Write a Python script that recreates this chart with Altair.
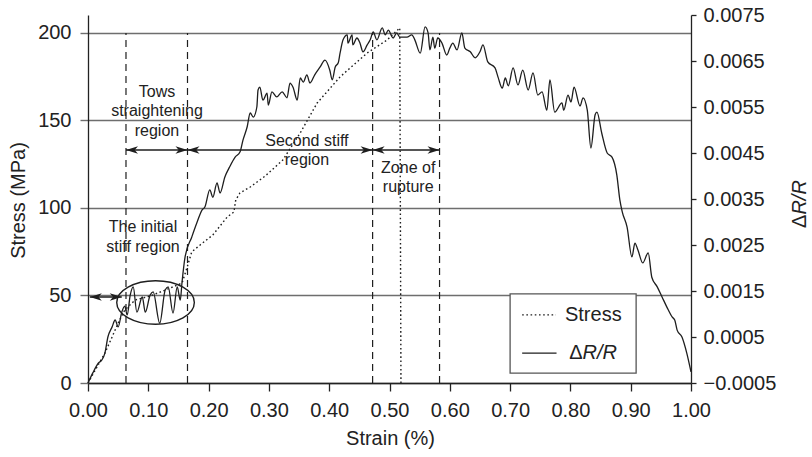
import altair as alt
import pandas as pd

FONT = "Liberation Sans"

# ---- data ----
strain_dr = [0.000, 0.008, 0.017, 0.023, 0.028, 0.033, 0.040, 0.045, 0.050, 0.056,
             0.061, 0.065, 0.070, 0.075, 0.081, 0.090, 0.095, 0.103, 0.108, 0.119,
             0.128, 0.133, 0.141, 0.148, 0.153, 0.156, 0.161, 0.172, 0.181, 0.189,
             0.194, 0.202, 0.207, 0.214, 0.219, 0.227, 0.235, 0.244, 0.252, 0.257,
             0.264, 0.269, 0.274, 0.280, 0.282, 0.285, 0.290, 0.297, 0.299, 0.305,
             0.313, 0.322, 0.330, 0.335, 0.340, 0.347, 0.352, 0.357, 0.363, 0.368,
             0.376, 0.385, 0.393, 0.401, 0.405, 0.410, 0.415, 0.418, 0.423, 0.430,
             0.431, 0.438, 0.439, 0.446, 0.451, 0.456, 0.463, 0.468, 0.473, 0.479,
             0.488, 0.493, 0.498, 0.506, 0.512, 0.517, 0.529, 0.537, 0.542, 0.551,
             0.559, 0.564, 0.567, 0.572, 0.575, 0.580, 0.587, 0.595, 0.600, 0.605,
             0.612, 0.620, 0.625, 0.634, 0.642, 0.650, 0.655, 0.663, 0.675, 0.680,
             0.687, 0.692, 0.697, 0.705, 0.713, 0.721, 0.730, 0.738, 0.746, 0.753,
             0.761, 0.766, 0.774, 0.786, 0.789, 0.796, 0.801, 0.806, 0.816, 0.821,
             0.828, 0.834, 0.841, 0.844, 0.852, 0.861, 0.869, 0.877, 0.882, 0.886,
             0.894, 0.902, 0.907, 0.912, 0.920, 0.929, 0.935, 0.944, 0.952, 0.960,
             0.969, 0.973, 0.977, 0.985, 0.993, 1.000]
dr_values = [-0.00050, -0.00028, -0.00007, 0.00000, 0.00015, 0.00050, 0.00072, 0.00087, 0.00072, 0.00104,
             0.00117, 0.00098, 0.00141, 0.00159, 0.00104, 0.00137, 0.00104, 0.00141, 0.00148, 0.00080,
             0.00152, 0.00159, 0.00102, 0.00159, 0.00130, 0.00170, 0.00224, 0.00267, 0.00300, 0.00326,
             0.00333, 0.00370, 0.00354, 0.00385, 0.00363, 0.00398, 0.00420, 0.00441, 0.00452, 0.00478,
             0.00507, 0.00537, 0.00528, 0.00550, 0.00587, 0.00593, 0.00565, 0.00580, 0.00554, 0.00583,
             0.00572, 0.00583, 0.00570, 0.00602, 0.00593, 0.00565, 0.00613, 0.00604, 0.00620, 0.00602,
             0.00620, 0.00637, 0.00652, 0.00630, 0.00609, 0.00637, 0.00646, 0.00667, 0.00696, 0.00707,
             0.00689, 0.00707, 0.00685, 0.00700, 0.00689, 0.00670, 0.00685, 0.00696, 0.00713, 0.00696,
             0.00722, 0.00707, 0.00717, 0.00700, 0.00711, 0.00702, 0.00702, 0.00707, 0.00696, 0.00667,
             0.00724, 0.00711, 0.00674, 0.00702, 0.00678, 0.00700, 0.00689, 0.00663, 0.00678, 0.00689,
             0.00674, 0.00711, 0.00678, 0.00670, 0.00657, 0.00670, 0.00685, 0.00648, 0.00635, 0.00615,
             0.00591, 0.00613, 0.00596, 0.00635, 0.00598, 0.00630, 0.00587, 0.00624, 0.00576, 0.00583,
             0.00543, 0.00609, 0.00539, 0.00559, 0.00543, 0.00576, 0.00561, 0.00593, 0.00552, 0.00570,
             0.00543, 0.00461, 0.00533, 0.00539, 0.00493, 0.00450, 0.00441, 0.00402, 0.00348, 0.00322,
             0.00289, 0.00224, 0.00254, 0.00239, 0.00211, 0.00233, 0.00180, 0.00159, 0.00137, 0.00115,
             0.00093, 0.00087, 0.00065, 0.00050, 0.00015, -0.00026]

strain_stress = [0.000, 0.012, 0.028, 0.040, 0.050, 0.061, 0.078, 0.103, 0.128, 0.156,
                 0.164, 0.172, 0.186, 0.207, 0.231, 0.242, 0.245, 0.252, 0.269, 0.294,
                 0.323, 0.352, 0.380, 0.418, 0.463, 0.496, 0.517, 0.519]
stress_values = [0.0, 7.4, 17.1, 26.3, 34.3, 41.7, 47.4, 49.7, 53.1, 57.1,
                 65.7, 74.9, 78.9, 84.6, 94.9, 97.7, 104.6, 108.6, 112.0, 118.3,
                 127.4, 142.9, 160.0, 174.9, 188.6, 196.0, 202.9, 0.0]

x_ticks = [0.0, 0.1, 0.2, 0.3, 0.4, 0.5, 0.6, 0.7, 0.8, 0.9, 1.0]
stress_ticks = [0, 50, 100, 150, 200]
dr_ticks = [-0.0005, 0.0005, 0.0015, 0.0025, 0.0035, 0.0045, 0.0055, 0.0065, 0.0075]

region_bounds = [0.063, 0.165, 0.472, 0.583]
arrow_start = [0.063, 0.165, 0.472, 0.003]
arrow_end = [0.165, 0.472, 0.583, 0.056]
arrow_level = [133.1, 133.1, 133.1, 49.1]

# annotation text: position of the first line of each block
note_text = ["Tows\nstraightening\nregion", "Second stiff\nregion", "Zone of\nrupture",
             "The initial\nstiff region"]
note_x = [0.1144, 0.363, 0.531, 0.0912]
note_y = [166.3, 138.3, 122.9, 89.1]

X_DOMAIN = [0, 1]
STRESS_DOMAIN = [0, 210.2857]
DR_DOMAIN = [-0.0005, 0.0075]

xs = alt.Scale(domain=X_DOMAIN, nice=False, zero=False)
ys = alt.Scale(domain=STRESS_DOMAIN, nice=False, zero=False)
drs = alt.Scale(domain=DR_DOMAIN, nice=False, zero=False)

INK = "#1e1e1e"
GRID = "#6e6e6e"

x_axis = alt.Axis(values=x_ticks, format=".2f", title="Strain (%)", grid=False,
                  tickSize=8, labelPadding=9, labelFlush=False, labelOverlap=False,
                  titleX=302, titleY=55, titleBaseline="middle", titleAlign="center")
left_axis = alt.Axis(orient="left", values=stress_ticks, title="Stress (MPa)", grid=True,
                     gridColor=GRID, gridWidth=1.4, tickColor=GRID, tickWidth=1.4, tickSize=8,
                     labelPadding=9, labelOverlap=False, titleAngle=270, titleX=-70, titleY=185,
                     titleBaseline="middle", titleAlign="center")
right_axis = alt.Axis(orient="right", values=dr_ticks, format=".4f", title="", grid=False,
                      tickSize=5, labelPadding=7, labelOverlap=False)


def X(field):
    return alt.X(field, scale=xs, axis=x_axis)


def Y(field):
    return alt.Y(field, scale=ys, axis=left_axis)


stress_df = pd.DataFrame({"strain": strain_stress, "stress": stress_values})
dr_df = pd.DataFrame({"strain": strain_dr, "dr": dr_values})
bounds_df = pd.DataFrame({"x": region_bounds, "y0": [0] * len(region_bounds),
                          "y1": [200] * len(region_bounds)})
arrow_df = pd.DataFrame({"x0": arrow_start, "x1": arrow_end, "y": arrow_level})
notes_df = pd.DataFrame({"x": note_x, "y": note_y, "t": note_text})

stress_line = alt.Chart(stress_df).mark_line(color=INK, strokeWidth=1.4, strokeDash=[1.6, 2.6]).encode(
    x=X("strain:Q"), y=Y("stress:Q"), order="index:Q",
).transform_window(index="row_number()")

bounds = alt.Chart(bounds_df).mark_rule(color=INK, strokeWidth=1.2, strokeDash=[7, 5]).encode(
    x=X("x:Q"), y=Y("y0:Q"), y2="y1:Q",
)

arrow_lines = alt.Chart(arrow_df).mark_rule(color=INK, strokeWidth=1.6).encode(
    x=X("x0:Q"), x2="x1:Q", y=Y("y:Q"),
)
RIGHT_HEAD = "M0,0L-2,-0.62L-1.45,0L-2,0.62Z"
LEFT_HEAD = "M0,0L2,-0.62L1.45,0L2,0.62Z"
heads_r = alt.Chart(arrow_df).mark_point(shape=RIGHT_HEAD, filled=True, size=144, color=INK,
                                         opacity=1).encode(x=X("x1:Q"), y=Y("y:Q"))
heads_l = alt.Chart(arrow_df).mark_point(shape=LEFT_HEAD, filled=True, size=144, color=INK,
                                         opacity=1).encode(x=X("x0:Q"), y=Y("y:Q"))

ELLIPSE = ("M-1,0C-1,-0.3093,-0.5523,-0.56,0,-0.56C0.5523,-0.56,1,-0.3093,1,0"
           "C1,0.3093,0.5523,0.56,0,0.56C-0.5523,0.56,-1,0.3093,-1,0Z")
ellipse_df = pd.DataFrame({"x": [0.112], "y": [46.0]})
ellipse = alt.Chart(ellipse_df).mark_point(shape=ELLIPSE, filled=False, size=6022, color=INK,
                                           strokeWidth=1.4, opacity=1).encode(x=X("x:Q"), y=Y("y:Q"))

notes = alt.Chart(notes_df).mark_text(font=FONT, fontSize=16, color="#222", align="center",
                                      baseline="middle", lineBreak="\n", lineHeight=19.5).encode(
    x=X("x:Q"), y=Y("y:Q"), text="t:N",
)

# legend drawn as marks
legend_box_df = pd.DataFrame({"x0": [0.700], "x1": [0.909], "y0": [5.7], "y1": [50.9]})
legend_box = alt.Chart(legend_box_df).mark_rect(fill="white", stroke="#555", strokeWidth=1.3).encode(
    x=X("x0:Q"), x2="x1:Q", y=Y("y0:Q"), y2="y1:Q",
)
leg_stress_df = pd.DataFrame({"x0": [0.720], "x1": [0.776], "y": [38.9]})
leg_dr_df = pd.DataFrame({"x0": [0.720], "x1": [0.777], "y": [17.1]})
leg_stress_line = alt.Chart(leg_stress_df).mark_rule(color=INK, strokeWidth=1.4,
                                                     strokeDash=[1.6, 2.6]).encode(
    x=X("x0:Q"), x2="x1:Q", y=Y("y:Q"))
leg_dr_line = alt.Chart(leg_dr_df).mark_rule(color=INK, strokeWidth=1.3).encode(
    x=X("x0:Q"), x2="x1:Q", y=Y("y:Q"))

leg_text_df = pd.DataFrame({"x": [0.791, 0.798], "y": [38.9, 17.1], "t": ["Stress", "\u0394"]})
leg_text = alt.Chart(leg_text_df).mark_text(font=FONT, fontSize=20, color="#222", align="left",
                                            baseline="middle").encode(
    x=X("x:Q"), y=Y("y:Q"), text="t:N")
leg_ital_df = pd.DataFrame({"x": [0.798], "y": [17.1], "t": ["R/R"]})
leg_ital = alt.Chart(leg_ital_df).mark_text(font=FONT, fontSize=20, fontStyle="italic", color="#222",
                                            align="left", baseline="middle", dx=13.4).encode(
    x=X("x:Q"), y=Y("y:Q"), text="t:N")

# right axis title  (ΔR/R with italic R)
rt1 = alt.Chart(pd.DataFrame({"t": ["\u0394"]})).mark_text(
    font=FONT, fontSize=20, color="#222", align="left", baseline="middle", angle=270).encode(
    x=alt.value(712), y=alt.value(213), text="t:N")
rt2 = alt.Chart(pd.DataFrame({"t": ["R/R"]})).mark_text(
    font=FONT, fontSize=20, fontStyle="italic", color="#222", align="left", baseline="middle",
    angle=270).encode(
    x=alt.value(712), y=alt.value(199.6), text="t:N")

stress_group = alt.layer(stress_line, bounds, arrow_lines, heads_r, heads_l, ellipse, notes,
                         legend_box, leg_stress_line, leg_dr_line, leg_text, leg_ital, rt1, rt2)

dr_line = alt.Chart(dr_df).mark_line(color=INK, strokeWidth=1.3, interpolate="monotone").encode(
    x=X("strain:Q"),
    y=alt.Y("dr:Q", scale=drs, axis=right_axis),
)

chart = alt.layer(stress_group, dr_line).resolve_scale(y="independent").properties(
    width=603, height=368,
    autosize=alt.AutoSizeParams(type="none"),
    padding={"left": 88, "top": 15, "right": 121, "bottom": 74},
    background="white",
).configure_view(stroke="transparent").configure_axis(
    labelFont=FONT, titleFont=FONT, labelFontSize=20, titleFontSize=20,
    titleFontWeight="normal", labelColor="#222", titleColor="#222",
    domainColor="#222", domainWidth=1.3, tickColor="#222", tickWidth=1.3,
)

chart.save("out.html", embed_options={"renderer": "svg", "actions": False})
